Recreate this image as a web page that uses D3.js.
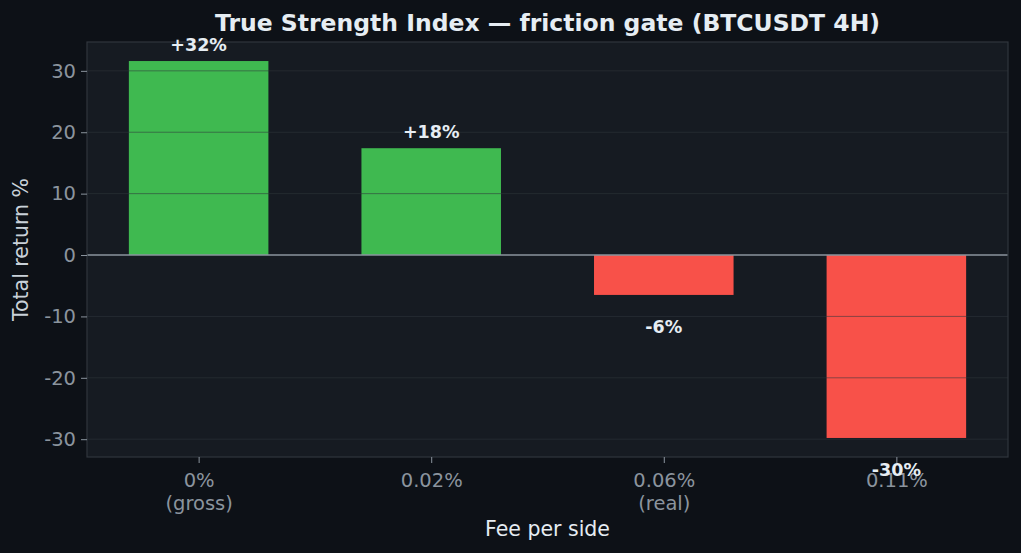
<!DOCTYPE html>
<html><head><meta charset="utf-8">
<script src="https://cdn.jsdelivr.net/npm/d3@7"></script>
<style>
html,body{margin:0;padding:0;background:#0d1117;}
svg{display:block;font-family:"DejaVu Sans",sans-serif;}
</style></head>
<body>
<svg id="chart" width="1021" height="553"></svg>
<script>
const categories = ["0%\n(gross)", "0.02%", "0.06%\n(real)", "0.11%"];
const values = [31.6, 17.4, -6.5, -29.8];
const labels = ["+32%", "+18%", "-6%", "-30%"];
const yTicks = [-30, -20, -10, 0, 10, 20, 30];

const W = 1021, H = 553;
const m = {l: 87, r: 13, t: 42, b: 96};
const svg = d3.select("#chart");
svg.append("rect").attr("width", W).attr("height", H).attr("fill", "#0d1117");

const x = d3.scaleLinear().domain([-0.48, 3.48]).range([m.l, W - m.r]);
const y = d3.scaleLinear().domain([-32.9, 34.7]).range([H - m.b, m.t]);
const bw = (x(0.3) - x(-0.3));

svg.append("rect").attr("x", m.l).attr("y", m.t)
  .attr("width", W - m.r - m.l).attr("height", H - m.b - m.t).attr("fill", "#161b22");

// bars
svg.append("g").selectAll("rect").data(values).join("rect")
  .attr("x", (d, i) => x(i) - bw / 2)
  .attr("width", bw)
  .attr("y", d => y(Math.max(0, d)))
  .attr("height", d => Math.abs(y(d) - y(0)))
  .attr("fill", d => d >= 0 ? "#3fb950" : "#f85149");

// grid over bars
svg.append("g").selectAll("line").data(yTicks.filter(t => t !== 0)).join("line")
  .attr("x1", m.l).attr("x2", W - m.r)
  .attr("y1", d => y(d)).attr("y2", d => y(d))
  .attr("stroke", "#30363d").attr("stroke-opacity", 0.55).attr("stroke-width", 1);

// zero line
svg.append("line").attr("x1", m.l).attr("x2", W - m.r)
  .attr("y1", y(0)).attr("y2", y(0))
  .attr("stroke", "#8b949e").attr("stroke-width", 1.5);

// spines
svg.append("rect").attr("x", m.l).attr("y", m.t)
  .attr("width", W - m.r - m.l).attr("height", H - m.b - m.t)
  .attr("fill", "none").attr("stroke", "#30363d").attr("stroke-width", 1.2);

// y axis
const yAxis = d3.axisLeft(y).tickValues(yTicks).tickSize(6).tickPadding(5).tickFormat(d3.format("d"));
const gy = svg.append("g").attr("transform", `translate(${m.l},0)`).call(yAxis);
gy.select(".domain").remove();
gy.selectAll(".tick line").attr("stroke", "#8b949e");
gy.selectAll(".tick text").attr("fill", "#8b949e").attr("font-size", 19.5)
  .attr("font-family", "DejaVu Sans").text(d => d < 0 ? "-" + Math.abs(d) : d);

// x axis
const xAxis = d3.axisBottom(x).tickValues(d3.range(categories.length)).tickSize(6).tickFormat("");
const gx = svg.append("g").attr("transform", `translate(0,${H - m.b})`).call(xAxis);
gx.select(".domain").remove();
gx.selectAll(".tick line").attr("stroke", "#8b949e");
gx.selectAll(".tick").each(function(d) {
  const t = d3.select(this).append("text").attr("fill", "#8b949e")
    .attr("font-size", 19.5).attr("font-family", "DejaVu Sans").attr("text-anchor", "middle");
  categories[d].split("\n").forEach((line, k) => {
    t.append("tspan").attr("x", 0).attr("y", 30 + k * 23).text(line);
  });
});

// value labels
svg.append("g").selectAll("text").data(values).join("text")
  .attr("x", (d, i) => x(i))
  .attr("y", d => d >= 0 ? y(d + 1.6) : y(d - 6.2))
  .attr("text-anchor", "middle").attr("font-weight", "bold").attr("font-size", 17.5)
  .attr("fill", "#e6edf3").text((d, i) => labels[i]);

// title
svg.append("text").attr("x", (m.l + W - m.r) / 2).attr("y", 31)
  .attr("text-anchor", "middle").attr("font-weight", "bold").attr("font-size", 23.5)
  .attr("fill", "#e6edf3").text("True Strength Index — friction gate (BTCUSDT 4H)");

// axis labels
svg.append("text").attr("x", (m.l + W - m.r) / 2).attr("y", 536)
  .attr("text-anchor", "middle").attr("font-size", 20.5).attr("fill", "#e6edf3").text("Fee per side");
svg.append("text").attr("transform", `translate(28,${(m.t + H - m.b) / 2}) rotate(-90)`)
  .attr("text-anchor", "middle").attr("font-size", 20.5).attr("fill", "#c9d1d9").text("Total return %");
</script>
</body></html>
